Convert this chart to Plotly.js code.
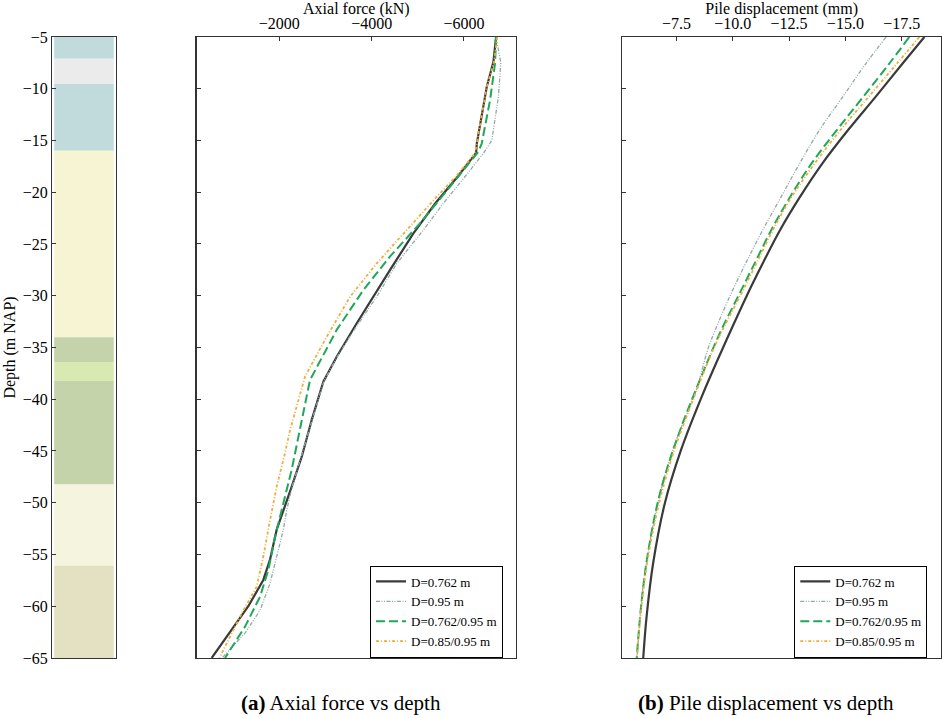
<!DOCTYPE html>
<html>
<head>
<meta charset="utf-8">
<script src="https://cdn.plot.ly/plotly-3.0.1.min.js"></script>
<style>html,body{margin:0;padding:0;background:#fff;}#chart{width:942px;height:718px;}</style>
</head>
<body>
<div id="chart"></div>
<script>
// ---- Soil profile ----
var layerTop    = [-5.0, -7.1, -9.54, -16.0, -34.0, -36.4, -38.24, -48.25, -56.1];
var layerBottom = [-7.1, -9.54, -16.0, -34.0, -36.4, -38.24, -48.25, -56.1, -65.0];
var layerColors = ['#c1dbdc', '#ebebeb', '#c1dbdc', '#f7f4d3', '#c4d3aa', '#d8e9b1', '#c4d3aa', '#f5f4df', '#e4e0c2'];

// ---- Axes ticks ----
var depthTicks = [-65, -60, -55, -50, -45, -40, -35, -30, -25, -20, -15, -10, -5];
var depthTickText = ['\u221265','\u221260','\u221255','\u221250','\u221245','\u221240','\u221235','\u221230','\u221225','\u221220','\u221215','\u221210','\u22125'];
var forceTicks = [-2000, -4000, -6000];
var forceTickText = ['\u22122000', '\u22124000', '\u22126000'];
var dispTicks = [-7.5, -10.0, -12.5, -15.0, -17.5];
var dispTickText = ['\u22127.5', '\u221210.0', '\u221212.5', '\u221215.0', '\u221217.5'];

var seriesNames = ['D=0.762 m', 'D=0.95 m', 'D=0.762/0.95 m', 'D=0.85/0.95 m'];

// ---- Axial force (kN) vs depth (m) ----
var forceDepth0762 = [-5, -7.4, -9.8, -15.3, -16.2, -18.5, -21.07, -24.0, -27.5, -32.66, -35.9, -38.3, -42.0, -45.55, -48.45, -50.7, -52.6, -55.5, -57.46, -60.0, -62.3, -65];
var force0762      = [-6695, -6637, -6494, -6277, -6262, -5860, -5380, -4900, -4399, -3677, -3243, -2953, -2702, -2485, -2268, -2087, -1943, -1798, -1653, -1328, -968, -535];

var forceDepth095 = [-5, -7.5, -10.8, -15.0, -16.24, -17.53, -18.17, -21.07, -23.65, -26.87, -30.1, -33.5, -36.0, -38.3, -42.0, -45.5, -48.5, -50.7, -52.6, -55.2, -57.8, -60.4, -62.6, -65];
var force095      = [-6695, -6797, -6745, -6602, -6420, -6204, -6080, -5553, -5120, -4544, -4110, -3590, -3240, -2960, -2710, -2490, -2275, -2160, -2087, -1943, -1798, -1582, -1257, -760];

var forceDepth0762095 = [-5, -7.54, -11.09, -15.27, -16.08, -18.5, -19.78, -23.0, -26.2, -29.45, -33.3, -38.14, -42.0, -46.8, -50.05, -53.3, -56.5, -59.08, -61.97, -65];
var force0762095      = [-6695, -6673, -6565, -6385, -6312, -5880, -5640, -5049, -4399, -3820, -3243, -2665, -2485, -2268, -2087, -1907, -1762, -1582, -1257, -823];

var forceDepth085095 = [-5, -7.4, -9.8, -15.3, -16.2, -17.2, -18.5, -20.43, -23.65, -26.87, -30.1, -33.96, -37.8, -40.7, -43.0, -45.2, -48.45, -51.7, -55.2, -58.1, -60.7, -64.55, -65];
var force085095      = [-6720, -6650, -6494, -6270, -6240, -6060, -5820, -5410, -4760, -4110, -3532, -3027, -2557, -2377, -2232, -2123, -1943, -1798, -1653, -1510, -1185, -752, -700];

// ---- Pile displacement (mm) vs depth (m) ----
var dispDepth0762 = [-5, -7.54, -10.76, -13.99, -17.21, -20.43, -23.65, -26.87, -30.09, -33.31, -35.24, -39.75, -44.9, -50.05, -55.85, -61.0, -65];
var disp0762      = [-18.51, -17.55, -16.35, -15.12, -13.98, -12.99, -12.10, -11.33, -10.60, -9.92, -9.52, -8.62, -7.70, -6.98, -6.46, -6.17, -6.02];

var dispDepth095 = [-5, -7.54, -10.76, -13.99, -17.21, -20.43, -23.65, -26.87, -30.09, -33.31, -35.24, -39.1, -44.9, -50.7, -57.8, -65];
var disp095      = [-16.81, -15.92, -14.89, -13.85, -12.97, -12.15, -11.33, -10.57, -9.86, -9.22, -8.88, -8.38, -7.33, -6.60, -6.03, -5.75];

var dispDepth0762095 = [-5, -7.54, -10.76, -13.99, -17.21, -20.43, -23.65, -26.87, -30.09, -33.31, -36.5, -43.0, -48.8, -54.6, -59.7, -65];
var disp0762095      = [-17.84, -16.96, -15.80, -14.62, -13.50, -12.55, -11.71, -10.97, -10.23, -9.49, -8.85, -7.66, -6.80, -6.25, -5.94, -5.73];

var dispDepth085095 = [-5, -7.54, -10.76, -13.99, -17.21, -20.43, -23.65, -26.87, -30.09, -33.31, -35.24, -40.0, -46.0, -52.0, -58.0, -65];
var disp085095      = [-18.29, -17.30, -16.04, -14.78, -13.64, -12.62, -11.78, -11.05, -10.31, -9.54, -9.12, -8.24, -7.24, -6.52, -6.05, -5.73];

// ---- styles ----
var styles = [
  {color: '#3a3a3a', width: 2.2, dash: 'solid'},
  {color: '#92aaa8', width: 1.3, dash: '4px,1.5px,1px,1.5px,1px,1.5px'},
  {color: '#1fa75a', width: 2.0, dash: '9px,4px'},
  {color: '#eeae3c', width: 1.8, dash: '3px,2px,1px,2px'}
];

var forceDepths = [forceDepth0762, forceDepth095, forceDepth0762095, forceDepth085095];
var forces = [force0762, force095, force0762095, force085095];
var dispDepths = [dispDepth0762, dispDepth095, dispDepth0762095, dispDepth085095];
var disps = [disp0762, disp095, disp0762095, disp085095];

var traces = [];
traces.push({
  type: 'bar',
  x: layerTop.map(function(){ return 0.5; }),
  base: layerBottom,
  y: layerTop.map(function(t, i){ return t - layerBottom[i]; }),
  width: 0.94,
  marker: {color: layerColors, line: {width: 0}},
  xaxis: 'x', yaxis: 'y',
  showlegend: false, hoverinfo: 'skip'
});

for (var i = 0; i < 4; i++) {
  traces.push({
    type: 'scatter', mode: 'lines', name: seriesNames[i],
    x: forces[i], y: forceDepths[i],
    line: styles[i],
    xaxis: 'x2', yaxis: 'y2', legend: 'legend'
  });
}
for (var j = 0; j < 4; j++) {
  traces.push({
    type: 'scatter', mode: 'lines', name: seriesNames[j],
    x: disps[j], y: dispDepths[j],
    line: Object.assign({shape: 'spline', smoothing: 1.0}, styles[j]),
    xaxis: 'x3', yaxis: 'y3', legend: 'legend2'
  });
}

var yDom = [0.0836, 0.9485];
var frame = {showline: true, mirror: true, linecolor: '#333', linewidth: 1.2, showgrid: false, zeroline: false, automargin: false, fixedrange: true};
function ax(o) { return Object.assign({}, frame, o); }

var legendBase = {
  xanchor: 'left', yanchor: 'middle', bgcolor: '#ffffff', bordercolor: '#000', borderwidth: 1,
  font: {size: 13, family: '"Liberation Serif", serif', color: '#000'}, itemwidth: 30, tracegroupgap: 0
};

var layout = {
  width: 942, height: 718,
  margin: {l: 0, r: 0, t: 0, b: 0},
  paper_bgcolor: '#ffffff', plot_bgcolor: 'rgba(0,0,0,0)',
  font: {family: '"Liberation Serif", "DejaVu Serif", serif', size: 16, color: '#000'},
  showlegend: true, barmode: 'overlay',
  xaxis: ax({domain: [0.0555, 0.1228], range: [0, 1], showticklabels: false, ticks: '', anchor: 'y'}),
  yaxis: ax({domain: yDom, range: [-65, -5], anchor: 'x', tickvals: depthTicks, ticktext: depthTickText,
             ticks: 'inside', ticklen: 4, tickcolor: '#333',
             title: {text: 'Depth (m NAP)', standoff: 3, font: {size: 16}}}),
  xaxis2: ax({domain: [0.2088, 0.5478], range: [-210, -7127], side: 'top', anchor: 'y2',
              tickvals: forceTicks, ticktext: forceTickText, ticks: 'inside', ticklen: 4, tickcolor: '#333',
              title: {text: 'Axial force (kN)', standoff: 1, font: {size: 16}}}),
  yaxis2: ax({domain: yDom, range: [-65, -5], anchor: 'x2', tickvals: depthTicks, showticklabels: false,
              ticks: 'inside', ticklen: 4, tickcolor: '#333'}),
  xaxis3: ax({domain: [0.6606, 0.9990], range: [-5.09, -19.25], side: 'top', anchor: 'y3',
              tickvals: dispTicks, ticktext: dispTickText, ticks: 'inside', ticklen: 4, tickcolor: '#333',
              title: {text: 'Pile displacement (mm)', standoff: 1, font: {size: 16}}}),
  yaxis3: ax({domain: yDom, range: [-65, -5], anchor: 'x3', tickvals: depthTicks, showticklabels: false,
              ticks: 'inside', ticklen: 4, tickcolor: '#333'}),
  legend: Object.assign({x: 0.3928, y: 0.1483}, legendBase),
  legend2: Object.assign({x: 0.8432, y: 0.1483}, legendBase),
  annotations: [
    {text: '<b>(a)</b> Axial force vs depth', xref: 'paper', yref: 'paper', x: 0.362, y: 0.0215,
     xanchor: 'center', yanchor: 'middle', showarrow: false, font: {size: 21}},
    {text: '<b>(b)</b> Pile displacement vs depth', xref: 'paper', yref: 'paper', x: 0.813, y: 0.0215,
     xanchor: 'center', yanchor: 'middle', showarrow: false, font: {size: 21}}
  ]
};

Plotly.newPlot('chart', traces, layout, {displayModeBar: false, staticPlot: true});
</script>
</body>
</html>
